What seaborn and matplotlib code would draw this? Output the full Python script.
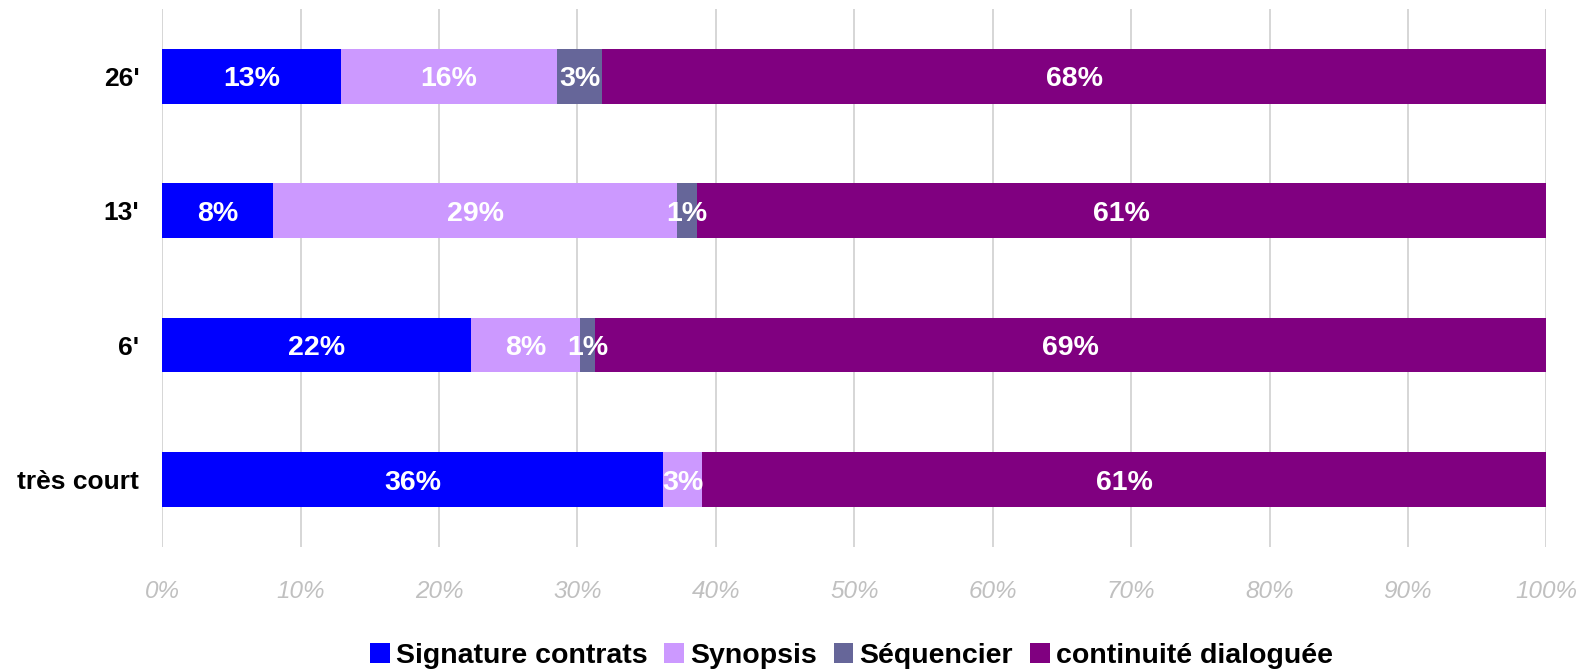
import matplotlib
matplotlib.use("Agg")
import matplotlib.pyplot as plt
from matplotlib.patches import Patch
import seaborn as sns
import numpy as np
import pandas as pd

# data (percent of total)
categories = ["26'", "13'", "6'", "très court"]
series = ["Signature contrats", "Synopsis", "Séquencier", "continuité dialoguée"]
signature = [12.9, 8.0, 22.3, 36.2]
synopsis = [15.6, 29.2, 7.9, 2.8]
sequencier = [3.3, 1.4, 1.1, 0.0]
continuite = [68.2, 61.4, 68.7, 61.0]
colors = ["#0000FF", "#CC99FF", "#666699", "#800080"]

sns.set_theme(style="white")
plt.rcParams['font.family'] = ['Liberation Sans', 'DejaVu Sans']

df = pd.DataFrame({"cat": categories, series[0]: signature, series[1]: synopsis,
                   series[2]: sequencier, series[3]: continuite})
cum = df[series].cumsum(axis=1)

fig = plt.figure(figsize=(15.94, 6.70), dpi=100)
ax = fig.add_axes([0.1018, 0.184, 0.8683, 0.8026])

# stacked bars: draw cumulative totals from the right end backwards
for s, c in reversed(list(zip(series, colors))):
    sns.barplot(x=cum[s], y=df["cat"], order=categories, color=c, orient="h",
                width=0.407, saturation=1, linewidth=0, edgecolor="none",
                ax=ax, zorder=3)

# segment labels
for i, cat in enumerate(categories):
    left = 0
    for s in series:
        v = df.loc[i, s]
        if v > 0:
            ax.text(left + v / 2, i, f"{v:.0f}%", ha="center", va="center_baseline",
                    color="white", fontsize=20.5, fontweight="bold", zorder=5)
        left += v

ax.set_xlim(0, 100)
ax.set_ylim(3.5, -0.5)
ax.set_xticks(np.arange(0, 101, 10))
ax.set_xticklabels([f"{t}%" for t in range(0, 101, 10)], fontsize=17.5,
                   style="italic", color="#C0C0C0")
ax.tick_params(axis="x", length=0, pad=24)
ax.tick_params(axis="y", length=0, pad=16.5)
for lab in ax.get_yticklabels():
    lab.set_fontsize(19)
    lab.set_fontweight("bold")
    lab.set_color("black")
ax.set_xlabel("")
ax.set_ylabel("")
ax.grid(axis="x", color="#D0D0D0", linewidth=1.2, zorder=0)
ax.grid(axis="y", visible=False)
for sp in ax.spines.values():
    sp.set_visible(False)

handles = [Patch(facecolor=c, edgecolor="none") for c in colors]
fig.legend(handles, series, loc="center", bbox_to_anchor=(0.534, 0.021), ncol=4,
           frameon=False, handlelength=0.7, handleheight=0.7, handletextpad=0.21,
           columnspacing=0.59, borderaxespad=0, borderpad=0, labelcolor="black",
           prop={"weight": "bold", "size": 20.5})

fig.savefig("out.png", dpi=100)
